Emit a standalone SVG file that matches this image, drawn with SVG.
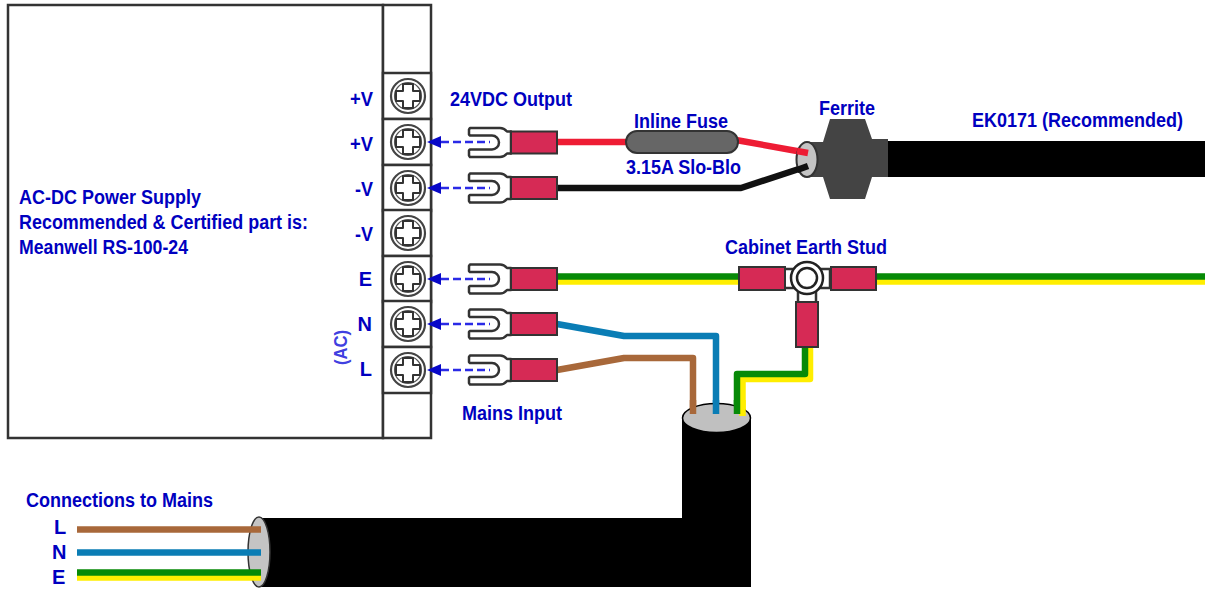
<svg xmlns="http://www.w3.org/2000/svg" width="1205" height="590" viewBox="0 0 1205 590">
<style>
text{font-family:"Liberation Sans",Arial,sans-serif;font-weight:bold;font-size:20px;fill:#0000c0}
.box{fill:#fff;stroke:#333;stroke-width:2.5}
.w{fill:none;stroke-width:6.5;stroke-linejoin:round;stroke-linecap:butt}
.crimp{fill:#d62a55;stroke:#333;stroke-width:2}
.lug{fill:#fff;stroke:#333;stroke-width:2.500}
.dash{stroke:#2a2ae6;stroke-width:2.500;stroke-dasharray:8 4;fill:none}
</style>
<defs>
<g id="screw">
<rect x="-25" y="-23" width="48" height="46" class="box"/>
<circle r="17" fill="#fff" stroke="#444" stroke-width="2.200"/>
<circle r="13.500" fill="none" stroke="#555" stroke-width="1.200"/>
<path d="M-5,-12 H5 V-5 H12 V5 H5 V12 H-5 V5 H-12 V-5 H-5 Z" fill="#fff" stroke="#333" stroke-width="2" stroke-linejoin="round"/>
</g>
<g id="fork">
<path class="lug" stroke-linejoin="round" d="M1,-14.500 H31 Q35,-14.500 38,-11 H42 V11 H38 Q35,14.500 31,14.500 H1 L0,13 V8 L1,7 H23 A7,7 0 0 0 23,-7 H1 L0,-8 V-13 Z"/>
<rect class="crimp" x="42" y="-11" width="46" height="22"/>
</g>
<marker id="arr" markerUnits="userSpaceOnUse" markerWidth="15" markerHeight="14" refX="14" refY="6" orient="auto">
<path d="M0,6 L14,0 V12 Z" fill="#0808c8"/>
</marker>
</defs>

<g id="power-supply">
<rect class="box" x="8" y="5" width="375" height="433"/>
<rect class="box" x="383" y="5" width="48" height="433"/>
<text x="19" y="204" textLength="182" lengthAdjust="spacingAndGlyphs">AC-DC Power Supply</text>
<text x="19" y="229" textLength="289" lengthAdjust="spacingAndGlyphs">Recommended &amp; Certified part is:</text>
<text x="19" y="254" textLength="169" lengthAdjust="spacingAndGlyphs">Meanwell RS-100-24</text>
<text x="350" y="106" textLength="23" lengthAdjust="spacingAndGlyphs">+V</text>
<text x="350" y="151" textLength="23" lengthAdjust="spacingAndGlyphs">+V</text>
<text x="355" y="196" textLength="18" lengthAdjust="spacingAndGlyphs">-V</text>
<text x="355" y="241" textLength="18" lengthAdjust="spacingAndGlyphs">-V</text>
<text x="372" y="286" text-anchor="end">E</text>
<text x="372" y="331" text-anchor="end">N</text>
<text x="372" y="376" text-anchor="end">L</text>
<text transform="translate(347,365) rotate(-90)" textLength="35" lengthAdjust="spacingAndGlyphs" style="fill:#4040e0;font-size:19px">(AC)</text>
</g>
<g id="terminal-1"><use href="#screw" x="408" y="96"/></g>
<g id="terminal-2"><use href="#screw" x="408" y="142"/></g>
<g id="terminal-3"><use href="#screw" x="408" y="188"/></g>
<g id="terminal-4"><use href="#screw" x="408" y="233"/></g>
<g id="terminal-5"><use href="#screw" x="408" y="279"/></g>
<g id="terminal-6"><use href="#screw" x="408" y="324"/></g>
<g id="terminal-7"><use href="#screw" x="408" y="370"/></g>

<g id="connectors">
<path class="w" stroke="#ee1c34" d="M557,142 H630 M736,140 L808,153"/>
<path class="w" stroke="#111" d="M557,188 H741 L808,166"/>
<path class="w" stroke="#ffee00" d="M557,281.500 H745 M870,281.500 H1205"/>
<path class="w" stroke="#078a07" d="M557,276.500 H745 M870,276.500 H1205"/>
<path class="w" stroke="#ffee00" d="M810,345 V379 H742.500 V417"/>
<path class="w" stroke="#078a07" d="M805,345 V374 H737 V417"/>
<path class="w" stroke="#0a7db5" stroke-linecap="round" d="M557,324 L624,336 H716 V416"/>
<path class="w" stroke="#a8683a" stroke-linecap="round" d="M557,370 L624,358 H693 V416"/>
</g>

<g id="lug-pos"><use href="#fork" x="469" y="142.500"/></g>
<g id="lug-neg"><use href="#fork" x="469" y="188"/></g>
<g id="lug-e"><use href="#fork" x="469" y="279"/></g>
<g id="lug-n"><use href="#fork" x="469" y="324"/></g>
<g id="lug-l"><use href="#fork" x="469" y="370"/></g>

<g id="arrows">
<path class="dash" marker-start="url(#arr)" d="M441,142 H490"/>
<path class="dash" marker-start="url(#arr)" d="M441,188 H490"/>
<path class="dash" marker-start="url(#arr)" d="M441,279 H490"/>
<path class="dash" marker-start="url(#arr)" d="M441,324 H490"/>
<path class="dash" marker-start="url(#arr)" d="M441,370 H490"/>
</g>

<g id="output-label"><text x="450" y="106" textLength="122" lengthAdjust="spacingAndGlyphs">24VDC Output</text></g>
<g id="mains-label"><text x="462" y="420" textLength="100" lengthAdjust="spacingAndGlyphs">Mains Input</text></g>

<g id="fuse">
<rect x="626" y="131" width="112" height="22" rx="11" fill="#666" stroke="#333" stroke-width="2"/>
<text x="634" y="128" textLength="94" lengthAdjust="spacingAndGlyphs">Inline Fuse</text>
<text x="626" y="174" textLength="115" lengthAdjust="spacingAndGlyphs">3.15A Slo-Blo</text>
</g>

<g id="output-cable">
<rect x="885" y="141" width="320" height="36" fill="#000"/>
<text x="972" y="127" textLength="211" lengthAdjust="spacingAndGlyphs">EK0171 (Recommended)</text>
</g>
<g id="ferrite">
<path d="M806,142 H823 L830,119 H865 L872,139 H888 V177 H872 L865,199 H830 L823,177 H806 Z" fill="#444"/>
<ellipse cx="807" cy="159.500" rx="10.500" ry="17.500" fill="#c4c4c4" stroke="#333" stroke-width="2"/>
<path class="w" stroke="#ee1c34" stroke-linecap="round" d="M797,151 L808,153"/>
<path class="w" stroke="#111" stroke-linecap="round" d="M797,170 L808,166"/>
<text x="819" y="115" textLength="56" lengthAdjust="spacingAndGlyphs">Ferrite</text>
</g>

<g id="earth-stud">
<rect class="lug" x="784" y="269" width="46" height="19"/>
<rect class="lug" x="798" y="288" width="18" height="16"/>
<rect class="crimp" x="739" y="267" width="46" height="23"/>
<rect class="crimp" x="831" y="267" width="45" height="23"/>
<rect class="crimp" x="796" y="302" width="22" height="45"/>
<circle cx="807" cy="278" r="16" fill="#fff" stroke="#222" stroke-width="2.500"/>
<circle cx="807" cy="278" r="10" fill="#fff" stroke="#222" stroke-width="2.500"/>
<text x="725" y="254" textLength="162" lengthAdjust="spacingAndGlyphs">Cabinet Earth Stud</text>
</g>

<g id="mains-cable">
<path d="M259,518 H682 V419 H751 V587 H259 Z" fill="#000"/>
<ellipse cx="716.500" cy="418" rx="34" ry="14.500" fill="#c0c0c0" stroke="#000" stroke-width="1.500"/>
<ellipse cx="259" cy="552" rx="11" ry="35" fill="#c4c4c4" stroke="#333" stroke-width="1.500"/>
<path class="w" stroke="#a8683a" stroke-linecap="round" d="M693,400 V414"/>
<path class="w" stroke="#0a7db5" stroke-linecap="round" d="M716,400 V414"/>
<path class="w" stroke="#ffee00" d="M742.500,400 V416"/>
<path class="w" stroke="#078a07" stroke-linecap="round" d="M737,400 V414"/>
</g>
<g id="mains-wires">
<path class="w" stroke="#a8683a" stroke-linecap="round" d="M77,529.500 H261"/>
<path class="w" stroke="#0a7db5" stroke-linecap="round" d="M77,552.500 H261"/>
<path class="w" stroke="#ffee00" stroke-linecap="round" d="M77,577.500 H261"/>
<path class="w" stroke="#078a07" stroke-linecap="round" d="M77,572.500 H261"/>
<text x="26" y="507" textLength="187" lengthAdjust="spacingAndGlyphs">Connections to Mains</text>
<text x="54" y="534">L</text>
<text x="52" y="559">N</text>
<text x="52" y="584">E</text>
</g>
</svg>
